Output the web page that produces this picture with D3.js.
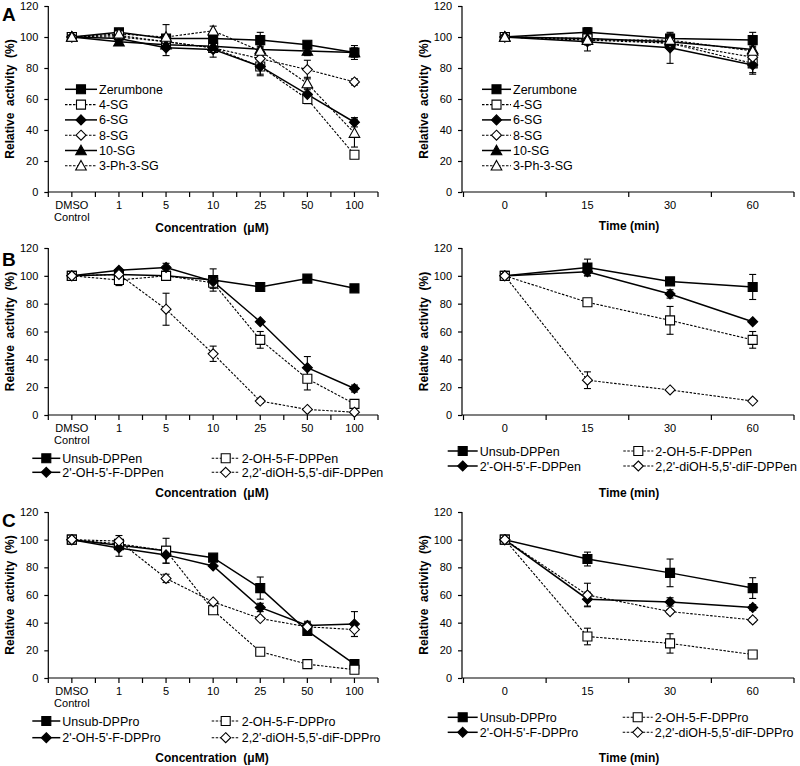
<!DOCTYPE html>
<html><head><meta charset="utf-8">
<script src="https://cdn.jsdelivr.net/npm/d3@7"></script>
<style>
body{margin:0;background:#fff}
text{font-family:"Liberation Sans",Arial,sans-serif;fill:#000;white-space:pre}
</style>
</head><body>
<svg id="c" width="800" height="766"></svg>
<script>
// ---------- DATA ----------
const concCats = ["DMSO|Control","1","5","10","25","50","100"];
const timeCats = ["0","15","30","60"];
const yTickValues = [0,20,40,60,80,100,120];

const seriesA = ["Zerumbone","4-SG","6-SG","8-SG","10-SG","3-Ph-3-SG"];
const symbolsA = ["sqF","sqO","diF","diO","trF","trO"];
const aConcMean = [
  [100,103,99,99,98,95,90],
  [100,101,97,93,81,60,24],
  [100,99,93,92,81,63,45],
  [100,100,97,93,86,79,71],
  [100,97,95,94,92,91,90],
  [100,102,100,104,91,70,38]];
const aConcErr = [
  [1,2,2,3,5,2,4.5],
  [1,2,3,3,6,3,2],
  [1,2,5,5,5,4,3],
  [1,2,3,3,3,6,2],
  [1,2,3,3,3,3,3],
  [1,2,8,3,3,4,9]];
const aTimeMean = [
  [100,103,99,98],
  [100,99,96,83],
  [100,97,93,82],
  [100,98,96,87],
  [100,99,97,92],
  [100,98,98,91]];
const aTimeErr = [
  [1,3,3,5],
  [1,3,4,6],
  [1,6,10,6],
  [1,3,3,3],
  [1,3,3,3],
  [1,3,3,3]];

const seriesB = ["Unsub-DPPen","2-OH-5-F-DPPen","2'-OH-5'-F-DPPen","2,2'-diOH-5,5'-diF-DPPen"];
const seriesC = ["Unsub-DPPro","2-OH-5-F-DPPro","2'-OH-5'-F-DPPro","2,2'-diOH-5,5'-diF-DPPro"];
const symbolsBC = ["sqF","sqO","diF","diO"];
const bConcMean = [
  [100,101,100,97,92,98,91],
  [100,97,100,95,54,26,8],
  [100,104,106,96,67,34,19],
  [100,101,76,44,10,4,2]];
const bConcErr = [
  [1,2,2,8,1,1,1],
  [1,4,3,4,6,8,1],
  [1,1,3,4,1,8,2.5],
  [1,1,11.5,5.5,1.5,1,1]];
const bTimeMean = [
  [100,106,96,92],
  [100,81,68,54],
  [100,103,87,67],
  [100,25,18,10]];
const bTimeErr = [
  [1,6,1,9],
  [1,1,10,6],
  [1,3,3,1],
  [1,6,1,1]];
const cConcMean = [
  [100,96,92,87,65,34,10],
  [100,97,92,49,19,10,6],
  [100,94,89,81,51,38,39],
  [100,99,72,55,43,37,35]];
const cConcErr = [
  [1,2,2,1,8,2,1],
  [1,2,9,1,1,1,1],
  [1,6,6,1,3,3,9],
  [1,4,3,1,1,3,5]];
const cTimeMean = [
  [100,86,76,65],
  [100,30,25,17],
  [100,57,55,51],
  [100,60,48,42]];
const cTimeErr = [
  [1,5,10,7.5],
  [1,6,7,1],
  [1,5,3,2],
  [1,8.5,1.5,1.5]];

// ---------- DRAW ----------
const svg = d3.select("#c");

function symPath(s){
  const t = s.slice(0,2);
  if(t==="sq"){const h=4.5;return `M${-h},${-h}H${h}V${h}H${-h}Z`;}
  if(t==="di"){const r=5;return `M0,${-r}L${r},0L0,${r}L${-r},0Z`;}
  const h=5.3;return `M0,${-h}L${h},${h*0.8}L${-h},${h*0.8}Z`;
}
function drawSym(g,s,x,y){
  const open = s.endsWith("O");
  g.append("path").attr("d",symPath(s)).attr("transform",`translate(${x},${y})`)
    .attr("fill",open?"#fff":"#000").attr("stroke","#000").attr("stroke-width",1.1);
}
function lineStyle(sel,s){
  const open = s.endsWith("O");
  sel.attr("fill","none").attr("stroke","#000")
    .attr("stroke-width",open?1.1:1.5)
    .attr("stroke-dasharray",open?"2.5,1.5":null);
}

function panel(p){
  const g = svg.append("g");
  const y = d3.scaleLinear().domain([0,120]).range([p.yb,p.yt]);
  const x = d3.scaleBand().domain(p.cats).range([p.xr0,p.xr1]);
  const cx = c => x(c)+x.bandwidth()/2;

  // y axis
  const ya = d3.axisLeft(y).tickValues(yTickValues).tickSize(4).tickPadding(6);
  const yg = g.append("g").attr("transform",`translate(${p.ax},0)`).call(ya);
  yg.select(".domain").attr("d",`M0,${p.yt}V${p.yb}`).attr("stroke","#000").attr("stroke-width",1.2);
  yg.selectAll(".tick line").attr("stroke","#000").attr("stroke-width",1.2);
  yg.selectAll(".tick text").attr("font-size","11px").attr("font-family",null);

  // x axis line + ticks
  g.append("line").attr("x1",p.ax).attr("x2",p.xr1).attr("y1",p.yb).attr("y2",p.yb)
    .attr("stroke","#000").attr("stroke-width",1.2);
  const step = x.step();
  const tickPos = [];
  if(p.halfTicks){ for(let i=0;i<=p.cats.length*2;i++) tickPos.push(p.xr0+i*step/2); }
  else { for(let i=0;i<=p.cats.length;i++) tickPos.push(p.xr0+i*step); }
  g.selectAll(".xt").data(tickPos).enter().append("line")
    .attr("x1",d=>d).attr("x2",d=>d).attr("y1",p.yb).attr("y2",p.yb+5)
    .attr("stroke","#000").attr("stroke-width",1.2);
  p.cats.forEach(c=>{
    const parts = c.split("|");
    parts.forEach((t,i)=>{
      g.append("text").attr("x",cx(c)).attr("y",p.yb+16.5+i*12)
        .attr("text-anchor","middle").attr("font-size","11px").text(t);
    });
  });

  // y title
  g.append("text").attr("transform",`translate(${p.ax-34},${(p.yt+p.yb)/2}) rotate(-90)`)
    .attr("text-anchor","middle").attr("font-size","12px").attr("font-weight","bold")
    .text("Relative  activity  (%)");
  // x title
  g.append("text").attr("x",p.xtx).attr("y",p.xty).attr("text-anchor","middle")
    .attr("font-size","12px").attr("font-weight","bold").text(p.xtitle);

  // series lines
  p.names.forEach((n,i)=>{
    const pts = p.mean[i].map((v,j)=>[cx(p.cats[j]),y(v)]);
    g.append("path").attr("d",d3.line()(pts)).call(lineStyle,p.syms[i]);
  });
  // error bars
  p.names.forEach((n,i)=>{
    p.mean[i].forEach((v,j)=>{
      const e = p.err[i][j]; if(e<1.5) return;
      const xx = cx(p.cats[j]);
      const eg = g.append("g").attr("stroke","#000").attr("stroke-width",1.1);
      eg.append("line").attr("x1",xx).attr("x2",xx).attr("y1",y(v-e)).attr("y2",y(v+e));
      [v-e,v+e].forEach(b=>eg.append("line").attr("x1",xx-3.5).attr("x2",xx+3.5).attr("y1",y(b)).attr("y2",y(b)));
    });
  });
  // markers
  p.names.forEach((n,i)=>{
    p.mean[i].forEach((v,j)=> drawSym(g,p.syms[i],cx(p.cats[j]),y(v)));
  });

  // legend
  p.names.forEach((n,i)=>{
    const L = p.legend(i);
    const lg = g.append("g");
    lg.append("path").attr("d",`M${L.x},${L.y}H${L.x+L.w}`).call(lineStyle,p.syms[i]);
    drawSym(lg,p.syms[i],L.x+L.w/2,L.y);
    lg.append("text").attr("x",L.x+L.w+2).attr("y",L.y+4.5).attr("font-size",L.fs).text(n);
  });

  // panel letter
  if(p.letter){
    g.append("text").attr("x",2).attr("y",p.ly).attr("font-size","19px").attr("font-weight","bold").text(p.letter);
  }
}

const leftX = {ax:48.3, xr0:48.3, xr1:378, cats:concCats, halfTicks:true, xtx:212, xtitle:"Concentration  (μM)"};
const rightX = {ax:462, xr0:463.5, xr1:794, cats:timeCats, halfTicks:false, xtx:629, xtitle:"Time (min)"};

// Row A
panel(Object.assign({}, leftX, {letter:"A", ly:21, yt:6, yb:192, xty:232, names:seriesA, syms:symbolsA,
  mean:aConcMean, err:aConcErr, legend:i=>({x:65,y:89.3+i*15.3,w:32,fs:"12.5px"})}));
panel(Object.assign({}, rightX, {yt:6, yb:192, xty:230, names:seriesA, syms:symbolsA,
  mean:aTimeMean, err:aTimeErr, legend:i=>({x:482,y:89.3+i*15.3,w:29,fs:"12.5px"})}));

// Row B
panel(Object.assign({}, leftX, {letter:"B", ly:266, yt:248, yb:415, xty:496.5, names:seriesB, syms:symbolsBC,
  mean:bConcMean, err:bConcErr,
  legend:i=>({x:(i%2? 211.7:32.3), y:458.3+Math.floor(i/2)*14, w:28, fs:"12.5px"})}));
panel(Object.assign({}, rightX, {yt:248, yb:415, xty:496.5, names:seriesB, syms:symbolsBC,
  mean:bTimeMean, err:bTimeErr,
  legend:i=>({x:(i%2? 623.3:447.7), y:451+Math.floor(i/2)*15, w:30, fs:"12.5px"})}));

// Row C
panel(Object.assign({}, leftX, {letter:"C", ly:527, yt:512, yb:678, xty:762, names:seriesC, syms:symbolsBC,
  mean:cConcMean, err:cConcErr,
  legend:i=>({x:(i%2? 211.7:32.3), y:721+Math.floor(i/2)*16.7, w:28, fs:"12.5px"})}));
panel(Object.assign({}, rightX, {yt:512, yb:678, xty:762, names:seriesC, syms:symbolsBC,
  mean:cTimeMean, err:cTimeErr,
  legend:i=>({x:(i%2? 622.7:447.7), y:717.3+Math.floor(i/2)*15, w:30, fs:"12.5px"})}));
</script>
</body></html>
